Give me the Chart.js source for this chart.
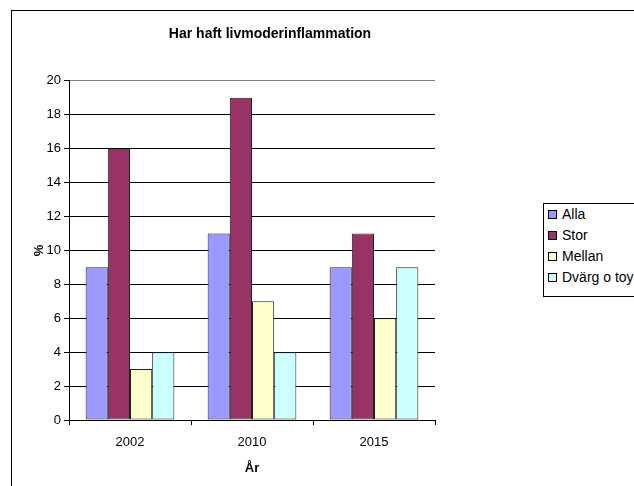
<!DOCTYPE html>
<html>
<head>
<meta charset="utf-8">
<script src="https://cdn.jsdelivr.net/npm/chart.js@4"></script>
<style>
  html, body { margin: 0; padding: 0; background: #fff; overflow: hidden; }
  #wrap { position: relative; width: 634px; height: 486px; }
  #frame { position: absolute; left: 11px; top: 10px; width: 700px; height: 600px; border: 1px solid #000; box-sizing: border-box; }
  #c { position: absolute; left: 0; top: 0; }
  #legend { position: absolute; left: 543px; top: 203px; width: 120px; height: 94px; border: 1px solid #000; background: #fff; box-sizing: border-box;
            font-family: "Liberation Sans", Arial, sans-serif; font-size: 14px; color: #000; }
  .li { position: absolute; left: 4px; height: 16px; line-height: 16px; white-space: nowrap; }
  .sw { display: inline-block; width: 7px; height: 7px; border: 1px solid #000; margin-right: 5px; vertical-align: 0px; }
</style>
</head>
<body>
<div id="wrap">
  <div id="frame"></div>
  <canvas id="c" width="634" height="486"></canvas>
  <div id="legend"></div>
</div>
<script>
const categories = ['2002', '2010', '2015'];
const seriesNames = ['Alla', 'Stor', 'Mellan', 'Dvärg o toy'];
const alla = [9, 11, 9];
const stor = [16, 19, 11];
const mellan = [3, 7, 6];
const dvarg = [4, 4, 9];
const yTicks = [0, 2, 4, 6, 8, 10, 12, 14, 16, 18, 20];
const colors = ['#9999FF', '#993366', '#FFFFCC', '#CCFFFF'];

const FONT = '"Liberation Sans", Arial, sans-serif';
const values = [alla, stor, mellan, dvarg];
const datasets = seriesNames.map((n, i) => ({
  label: n, data: values[i], backgroundColor: colors[i],
  borderColor: '#222', borderWidth: 1, borderSkipped: false,
  categoryPercentage: 4 / 5.5, barPercentage: 1
}));

const chart = new Chart(document.getElementById('c'), {
  type: 'bar',
  data: { labels: categories, datasets },
  options: {
    responsive: false, animation: false,
    devicePixelRatio: 1,
    layout: { padding: { left: 0, right: 94, top: 0, bottom: 0 } },
    plugins: {
      legend: { display: false },
      tooltip: { enabled: false },
      title: { display: true, text: 'Har haft livmoderinflammation', color: '#000',
        font: { family: FONT, size: 14, weight: 'bold' }, padding: { top: 26, bottom: 38 } }
    },
    scales: {
      x: {
        afterFit: s => { s.height = 66; },
        grid: { offset: true, color: c => (c.index === 3 ? '#808080' : 'rgba(0,0,0,0)'), tickColor: '#000', tickLength: 5, lineWidth: 1 },
        border: { color: '#000' },
        ticks: { color: '#000', font: { family: FONT, size: 13 }, padding: 10, maxRotation: 0 },
        title: { display: true, text: 'År', color: '#000', font: { family: FONT, size: 13, weight: 'bold' }, padding: { top: 0, bottom: 10 } }
      },
      y: {
        min: 0, max: 20,
        afterFit: s => { s.width = 69; },
        afterBuildTicks: s => { s.ticks = yTicks.map(v => ({ value: v })); },
        grid: { color: c => (c.tick && c.tick.value === 20 ? '#808080' : '#000'), tickColor: '#000', tickLength: 5 },
        border: { color: '#000' },
        ticks: { color: '#000', font: { family: FONT, size: 13 }, padding: 3 },
        title: { display: true, text: '%', color: '#000', font: { family: FONT, size: 13, weight: 'bold' }, padding: { top: 32, bottom: 0 } }
      },
      spacer: {
        position: 'right', display: true,
        afterFit: s => { s.width = 105; },
        grid: { display: false, drawTicks: false }, border: { display: false },
        ticks: { display: false }
      }
    }
  }
});

const leg = document.getElementById('legend');
chart.data.datasets.forEach((d, i) => {
  const el = document.createElement('div');
  el.className = 'li';
  el.style.top = (2 + i * 21) + 'px';
  el.innerHTML = '<span class="sw" style="background:' + d.backgroundColor + '"></span>';
  el.appendChild(document.createTextNode(d.label));
  leg.appendChild(el);
});
</script>
</body>
</html>
